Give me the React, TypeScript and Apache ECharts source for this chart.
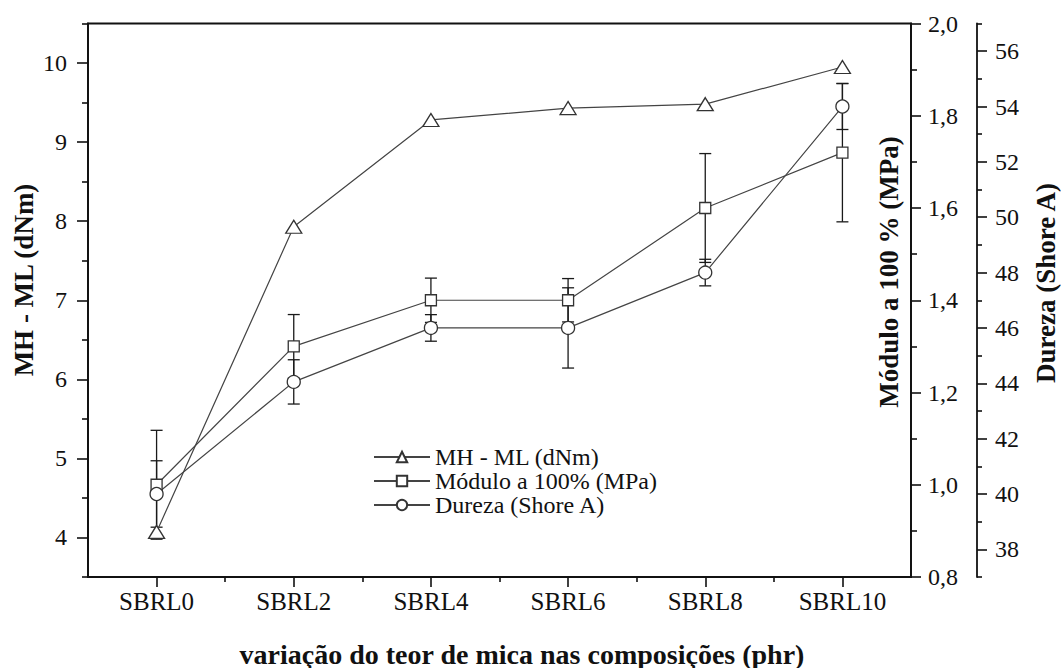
import React, { useEffect, useRef } from "react";
import * as echarts from "echarts";

const categories = ["SBRL0", "SBRL2", "SBRL4", "SBRL6", "SBRL8", "SBRL10"];
const mhml = [4.07, 7.93, 9.28, 9.43, 9.48, 9.95];
const modulo = [1.0, 1.3, 1.4, 1.4, 1.6, 1.72];
const moduloErr = [0.118, 0.069, 0.048, 0.047, 0.118, 0.15];
const dureza = [40.0, 44.05, 46.0, 46.0, 48.0, 54.0];
const durezaErr = [1.2, 0.8, 0.48, 1.45, 0.48, 0.83];

const leftTicks = [4, 5, 6, 7, 8, 9, 10];
const leftMinorTicks = [3.5, 4.5, 5.5, 6.5, 7.5, 8.5, 9.5, 10.5];
const durezaTicks = [38, 40, 42, 44, 46, 48, 50, 52, 54, 56];
const durezaMinorTicks = [37, 39, 41, 43, 45, 47, 49, 51, 53, 55, 57];
const xTicks = [0, 1, 2, 3, 4, 5];
const xMinorTicks = [0.5, 1.5, 2.5, 3.5, 4.5];

const seriesNames = ["MH - ML (dNm)", "Módulo a 100% (MPa)", "Dureza (Shore A)"];
const titleX = "variação do teor de mica nas composições (phr)";
const titleLeft = "MH - ML (dNm)";
const titleMod = "Módulo a 100 % (MPa)";
const titleDur = "Dureza (Shore A)";

const FONT = "Liberation Serif";
const INK = "#111";
const LINE = "#444";
const axisLineStyle = { color: INK, width: 1.8 };
const tickLineStyle = { color: INK, width: 1.6 };

function errorSeries(values: number[], errs: number[], yAxisIndex: number) {
  return {
    type: "custom",
    xAxisIndex: 0,
    yAxisIndex,
    z: 2,
    silent: true,
    data: values.map((v, i) => [i, v, errs[i]]),
    encode: { x: 0, y: 1 },
    renderItem: (params: any, api: any) => {
      const x = api.value(0);
      const y = api.value(1);
      const e = api.value(2);
      const top = api.coord([x, y + e]);
      const bot = api.coord([x, y - e]);
      const hw = 6;
      const st = { stroke: "#1a1a1a", lineWidth: 1.3 };
      return {
        type: "group",
        children: [
          { type: "line", shape: { x1: top[0], y1: top[1], x2: bot[0], y2: bot[1] }, style: st },
          { type: "line", shape: { x1: top[0] - hw, y1: top[1], x2: top[0] + hw, y2: top[1] }, style: st },
          { type: "line", shape: { x1: bot[0] - hw, y1: bot[1], x2: bot[0] + hw, y2: bot[1] }, style: st },
        ],
      };
    },
  };
}

function lineSeries(name: string, values: number[], yAxisIndex: number, symbol: string, size: any) {
  return {
    type: "line",
    name,
    xAxisIndex: 0,
    yAxisIndex,
    z: 3,
    data: values.map((v, i) => [i, v]),
    symbol,
    symbolSize: size,
    showAllSymbol: true,
    lineStyle: { color: LINE, width: 1.2 },
    itemStyle: { color: "#ffffff", borderColor: "#333", borderWidth: 1.3 },
  };
}

export default function App() {
  const ref = useRef<HTMLDivElement>(null);
  useEffect(() => {
    if (!ref.current) return;
    const chart = echarts.init(ref.current, null, { renderer: "svg" });
    const labelBase = { fontSize: 24, fontFamily: FONT, color: INK };
    const noZero = { onZero: false };
    const option: any = {
      animation: false,
      backgroundColor: "#ffffff",
      textStyle: { fontFamily: FONT },
      grid: {
        left: 88,
        right: 150,
        top: 23.5,
        bottom: 91,
        show: true,
        borderColor: INK,
        borderWidth: 1.8,
        backgroundColor: "transparent",
      },
      legend: {
        orient: "vertical",
        left: 373,
        top: 445,
        padding: 0,
        itemWidth: 56,
        itemHeight: 13,
        itemGap: 0,
        data: seriesNames,
        textStyle: { fontSize: 24, fontFamily: FONT, color: INK },
      },
      xAxis: [
        {
          type: "value",
          min: -0.5,
          max: 5.5,
          position: "bottom",
          axisLine: { show: true, ...noZero, lineStyle: axisLineStyle },
          axisTick: { show: true, inside: false, length: 10, customValues: xTicks, lineStyle: tickLineStyle },
          axisLabel: {
            ...labelBase,
            fontSize: 25,
            margin: 12,
            customValues: xTicks,
            formatter: (v: number) => categories[Math.round(v)] ?? "",
          },
          splitLine: { show: false },
        },
        {
          type: "value",
          min: -0.5,
          max: 5.5,
          position: "bottom",
          axisLine: { show: false, ...noZero },
          axisTick: { show: true, inside: false, length: 5, customValues: xMinorTicks, lineStyle: tickLineStyle },
          axisLabel: { show: false },
          splitLine: { show: false },
        },
      ],
      yAxis: [
        {
          type: "value",
          position: "left",
          min: 3.5,
          max: 10.5,
          axisLine: { show: true, ...noZero, lineStyle: axisLineStyle },
          axisTick: { show: true, inside: false, length: 11, customValues: leftTicks, lineStyle: tickLineStyle },
          axisLabel: { ...labelBase, margin: 21, customValues: leftTicks, formatter: (v: number) => String(v) },
          splitLine: { show: false },
        },
        {
          type: "value",
          position: "left",
          min: 3.5,
          max: 10.5,
          axisLine: { show: false, ...noZero },
          axisTick: { show: true, inside: false, length: 6, customValues: leftMinorTicks, lineStyle: tickLineStyle },
          axisLabel: { show: false },
          splitLine: { show: false },
        },
        {
          type: "value",
          position: "right",
          min: 0.8,
          max: 2.0,
          interval: 0.2,
          axisLine: { show: true, ...noZero, lineStyle: axisLineStyle },
          axisTick: { show: true, inside: false, length: 10, lineStyle: tickLineStyle },
          minorTick: { show: true, splitNumber: 2, length: 6, lineStyle: tickLineStyle },
          axisLabel: {
            ...labelBase,
            margin: 17,
            formatter: (v: number) => v.toFixed(1).replace(".", ","),
          },
          splitLine: { show: false },
          minorSplitLine: { show: false },
        },
        {
          type: "value",
          position: "right",
          offset: 66,
          min: 37,
          max: 57,
          axisLine: { show: true, ...noZero, lineStyle: axisLineStyle },
          axisTick: { show: true, inside: false, length: 10, customValues: durezaTicks, lineStyle: tickLineStyle },
          axisLabel: { ...labelBase, margin: 18, customValues: durezaTicks, formatter: (v: number) => String(v) },
          splitLine: { show: false },
        },
        {
          type: "value",
          position: "right",
          offset: 66,
          min: 37,
          max: 57,
          axisLine: { show: false, ...noZero },
          axisTick: { show: true, inside: false, length: 5, customValues: durezaMinorTicks, lineStyle: tickLineStyle },
          axisLabel: { show: false },
          splitLine: { show: false },
        },
      ],
      graphic: [
        {
          type: "text",
          x: 522,
          y: 654,
          style: {
            text: titleX,
            fontSize: 28,
            fontWeight: "bold",
            fontFamily: FONT,
            fill: INK,
            textAlign: "center",
            textVerticalAlign: "middle",
          },
        },
        {
          type: "text",
          x: 24,
          y: 280,
          rotation: Math.PI / 2,
          style: {
            text: titleLeft,
            fontSize: 27,
            fontWeight: "bold",
            fontFamily: FONT,
            fill: INK,
            textAlign: "center",
            textVerticalAlign: "middle",
          },
        },
        {
          type: "text",
          x: 889,
          y: 272,
          rotation: Math.PI / 2,
          style: {
            text: titleMod,
            fontSize: 27,
            fontWeight: "bold",
            fontFamily: FONT,
            fill: INK,
            textAlign: "center",
            textVerticalAlign: "middle",
          },
        },
        {
          type: "text",
          x: 1046,
          y: 283,
          rotation: Math.PI / 2,
          style: {
            text: titleDur,
            fontSize: 27,
            fontWeight: "bold",
            fontFamily: FONT,
            fill: INK,
            textAlign: "center",
            textVerticalAlign: "middle",
          },
        },
      ],
      series: [
        errorSeries(modulo, moduloErr, 2),
        errorSeries(dureza, durezaErr, 3),
        lineSeries(seriesNames[0], mhml, 0, "triangle", [16, 13]),
        lineSeries(seriesNames[1], modulo, 2, "rect", [11, 11]),
        lineSeries(seriesNames[2], dureza, 3, "circle", 13),
      ],
    };
    chart.setOption(option);
    return () => chart.dispose();
  }, []);
  return (
    <div
      ref={ref}
      style={{ position: "fixed", left: 0, top: 0, width: 1061, height: 668, background: "#fff" }}
    />
  );
}
